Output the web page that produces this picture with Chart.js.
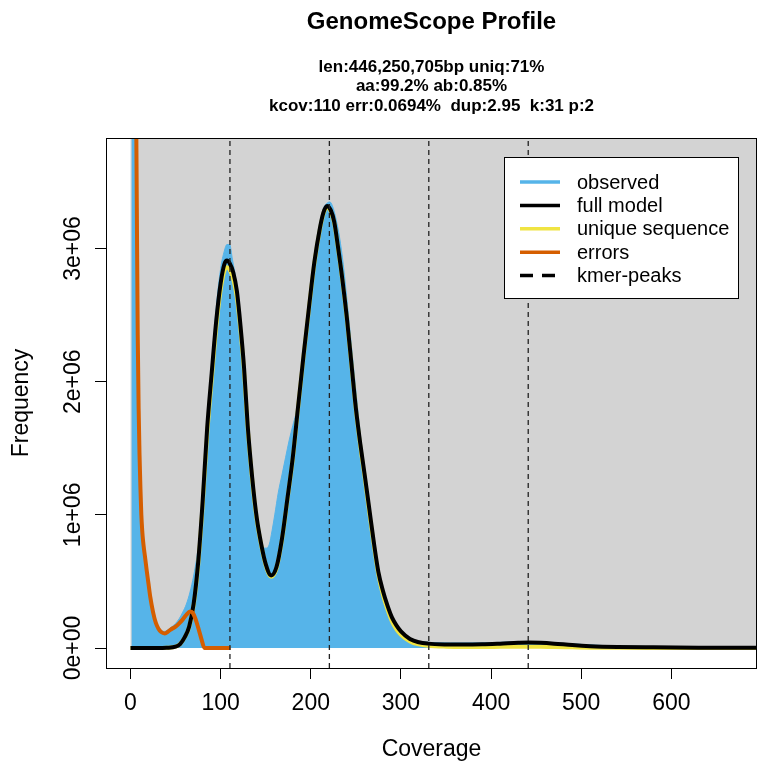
<!DOCTYPE html>
<html>
<head>
<meta charset="utf-8">
<script src="https://cdn.jsdelivr.net/npm/chart.js@4.4.1/dist/chart.umd.min.js"></script>
<style>
  body { margin: 0; background: #fff; }
</style>
</head>
<body>
<canvas id="myChart" width="770" height="777"></canvas>
<script>
// frequencies below are in millions of k-mers
const obsCov = [1,2,3,4,5,6,7,8,9,10,11,12,13,14,15,16,18,20,22,25,28,31,34,38,42,46,
  50,54,58,62,66,70,74,78,82,86,90,95,100,104,107,110,113,117,121,125,129,133,137,141,145,
  148,151,154,157,160,164,168,172,176,180,184,190,196,202,208,214,218,221,224,228,232,236,
  240,245,250,255,260,265,270,275,280,285,290,295,300,310,320,340,370,400,430,450,480,520,
  560,600,650,694];
const obsFreq = [20,12,8,6.5,5.2,4.3,3.3,2.35,1.8,1.45,1.2,1.0,0.88,0.8,0.74,0.69,
  0.58,0.48,0.38,0.27,0.19,0.15,0.13,0.125,0.14,0.16,
  0.185,0.22,0.27,0.33,0.42,0.54,0.7,0.92,1.3,1.75,
  2.12,2.55,2.85,2.98,3.03,3.03,2.92,2.76,2.52,2.2,
  1.78,1.45,1.15,0.93,0.8,0.75,0.75,0.78,0.88,1.0,
  1.17,1.3,1.43,1.56,1.67,1.78,2.1,2.48,2.85,3.13,
  3.3,3.34,3.35,3.32,3.22,3.08,2.88,2.62,2.27,1.93,
  1.6,1.33,1.05,0.8,0.56,0.4,0.27,0.18,0.12,0.085,
  0.058,0.048,0.04,0.038,0.04,0.046,0.045,0.035,0.02,0.013,
  0.009,0.007,0.006];

const modelCov = [0,10,20,30,40,50,55,60,65,70,75,80,85,90,95,100,104,107,110,114,118,122,126,130,
  135,140,145,150,156,162,168,174,180,186,192,198,204,210,214,218,222,226,230,235,240,245,250,
  255,260,265,270,275,280,285,290,295,300,310,320,330,350,370,390,410,430,442,455,470,490,510,
  540,580,630,694];
const modelFreq = [0,0,0,0,0.002,0.01,
  0.03,0.08,0.16,0.33,0.64,1.1,1.65,2.06,2.45,2.74,
  2.88,2.91,2.89,2.82,2.68,2.42,2.1,1.67,
  1.28,0.98,0.78,0.63,0.545,0.61,0.82,1.12,1.43,
  1.82,2.2,2.56,2.9,3.15,3.27,3.32,3.29,3.2,3.02,
  2.77,2.48,2.14,1.8,1.53,1.29,1.04,0.79,0.57,0.43,
  0.32,0.23,0.17,0.125,0.068,0.043,0.033,
  0.027,0.026,0.028,0.033,0.039,0.041,0.039,0.033,0.022,0.014,
  0.008,0.005,0.003,0.002];
const uniqueFreq = [0,0,0,0,0.002,0.01,
  0.03,0.078,0.155,0.32,0.62,1.07,1.6,2.01,2.4,2.69,
  2.83,2.86,2.84,2.77,2.63,2.38,2.07,1.65,
  1.26,0.965,0.77,0.62,0.535,0.6,0.81,1.11,1.42,
  1.81,2.19,2.55,2.89,3.14,3.26,3.31,3.28,3.19,3.01,
  2.76,2.47,2.13,1.79,1.51,1.27,1.01,0.77,0.55,0.4,
  0.29,0.2,0.14,0.1,0.05,0.027,0.017,
  0.01,0.008,0.008,0.009,0.01,0.01,0.009,0.007,0.005,0.003,
  0.002,0.001,0.0005,0];

const errCov = [1,2,3,4,5,6,7,8,9,10,11,12,13,14,15,16,18,20,22,25,28,31,34,38,42,46,
  50,54,58,62,66,69,72,75,79,82,111];
const errFreq = [20,12,8,6.5,5.2,4.3,3.3,2.35,1.8,1.45,1.2,1.0,0.88,0.8,0.74,0.69,
  0.58,0.48,0.38,0.27,0.19,0.145,0.12,0.11,0.125,0.145,
  0.16,0.185,0.215,0.25,0.275,0.265,0.22,0.155,0.06,0,0];

const kmerPeaks = [110.3, 220.6, 330.9, 441.2];

const xTicks = [0, 100, 200, 300, 400, 500, 600];
const yTicks = [0, 1e6, 2e6, 3e6];
const yTickLabels = ['0e+00', '1e+06', '2e+06', '3e+06'];

const titleText = 'GenomeScope Profile';
const subtitleLines = [
  'len:446,250,705bp uniq:71%',
  'aa:99.2% ab:0.85%',
  'kcov:110 err:0.0694%  dup:2.95  k:31 p:2'
];
const legendLabels = ['observed', 'full model', 'unique sequence', 'errors', 'kmer-peaks'];

const COLOR_HIST = '#56B4E9';
const COLOR_MODEL = '#000000';
const COLOR_UNIQUE = '#F0E442';
const COLOR_ERRORS = '#D55E00';
const COLOR_BG = '#d3d3d3';
const FONT = '"Liberation Sans", Arial, sans-serif';

const X_MIN = -27.2, X_MAX = 695;
const Y_MIN = -0.15e6, Y_MAX = 3.83e6;

const pts = (xs, ys) => xs.map((x, i) => ({ x: x, y: ys[i] * 1e6 }));

const datasets = [
  {
    label: 'errors', data: pts(errCov, errFreq), borderColor: COLOR_ERRORS,
    borderWidth: 4, pointRadius: 0, cubicInterpolationMode: 'monotone', order: 1
  },
  {
    label: 'full model', data: pts(modelCov, modelFreq), borderColor: COLOR_MODEL,
    borderWidth: 4, pointRadius: 0, cubicInterpolationMode: 'monotone', order: 2
  },
  {
    label: 'unique sequence', data: pts(modelCov, uniqueFreq), borderColor: COLOR_UNIQUE,
    borderWidth: 4, pointRadius: 0, cubicInterpolationMode: 'monotone', order: 3
  },
  {
    label: 'observed', data: pts(obsCov, obsFreq), borderColor: COLOR_HIST,
    backgroundColor: COLOR_HIST, fill: 'origin', borderWidth: 1, pointRadius: 0,
    cubicInterpolationMode: 'monotone', order: 4
  }
];
kmerPeaks.forEach(p => {
  datasets.push({
    label: 'kmer-peaks', data: [{ x: p, y: Y_MIN }, { x: p, y: Y_MAX }],
    borderColor: '#222', borderWidth: 1.3, borderDash: [5, 4], pointRadius: 0, order: 0
  });
});

const genomePlot = {
  id: 'genomePlot',
  beforeDatasetsDraw(chart) {
    const { ctx, chartArea: a, scales: { x, y } } = chart;
    const x0 = x.getPixelForValue(0), y0 = y.getPixelForValue(0);
    ctx.save();
    ctx.fillStyle = COLOR_BG;
    ctx.fillRect(x0, a.top, a.right - x0, y0 - a.top);
    ctx.restore();
  },
  afterDraw(chart) {
    const { ctx, chartArea: a, scales: { y } } = chart;
    ctx.save();
    // box
    ctx.strokeStyle = '#000';
    ctx.lineWidth = 1;
    ctx.strokeRect(Math.round(a.left) + 0.5, Math.round(a.top) + 0.5,
      Math.round(a.right - a.left) - 1, Math.round(a.bottom - a.top));

    // y tick labels, rotated like R
    ctx.fillStyle = '#000';
    ctx.font = '23px ' + FONT;
    ctx.textAlign = 'center';
    ctx.textBaseline = 'alphabetic';
    yTicks.forEach((v, i) => {
      ctx.save();
      ctx.translate(a.left - 26, y.getPixelForValue(v));
      ctx.rotate(-Math.PI / 2);
      ctx.fillText(yTickLabels[i], 0, 0);
      ctx.restore();
    });

    // titles
    const cx = (a.left + a.right) / 2;
    ctx.font = 'bold 24px ' + FONT;
    ctx.fillText(titleText, cx, 29);
    ctx.font = 'bold 17px ' + FONT;
    subtitleLines.forEach((t, i) => ctx.fillText(t, cx, 71.5 + i * 19.6));

    // legend
    const lx = a.right - 253, ly = a.top + 19, lw = 234, lh = 141;
    ctx.fillStyle = '#fff';
    ctx.fillRect(lx, ly, lw, lh);
    ctx.strokeStyle = '#000';
    ctx.strokeRect(lx + 0.5, ly + 0.5, lw, lh);
    const cols = [COLOR_HIST, COLOR_MODEL, COLOR_UNIQUE, COLOR_ERRORS, '#000'];
    ctx.font = '20px ' + FONT;
    ctx.textAlign = 'left';
    ctx.textBaseline = 'middle';
    legendLabels.forEach((lab, i) => {
      const ry = ly + 25 + i * 23.4;
      ctx.strokeStyle = cols[i];
      ctx.lineWidth = 3.5;
      ctx.setLineDash(i === 4 ? [13, 9] : []);
      ctx.beginPath();
      ctx.moveTo(lx + 16, ry);
      ctx.lineTo(lx + 56, ry);
      ctx.stroke();
      ctx.fillStyle = '#000';
      ctx.fillText(lab, lx + 73, ry + 1);
    });
    ctx.restore();
  }
};

const ctx = document.getElementById('myChart').getContext('2d');
const myChart = new Chart(ctx, {
  type: 'line',
  data: { datasets: datasets },
  options: {
    responsive: false,
    animation: false,
    devicePixelRatio: 1,
    layout: { padding: { top: 138, right: 13, left: 0, bottom: 0 } },
    plugins: { legend: { display: false }, tooltip: { enabled: false } },
    scales: {
      x: {
        type: 'linear', min: X_MIN, max: X_MAX,
        afterBuildTicks: s => { s.ticks = xTicks.map(v => ({ value: v })); },
        afterFit: s => { s.height = 109; },
        grid: { drawOnChartArea: false, drawTicks: true, tickLength: 11, color: '#000' },
        border: { display: false },
        ticks: {
          color: '#000', padding: 11, maxRotation: 0,
          font: { family: FONT, size: 23 }
        },
        title: {
          display: true, text: 'Coverage', color: '#000',
          font: { family: FONT, size: 23 },
          padding: { top: 0, bottom: 14 }
        }
      },
      y: {
        type: 'linear', min: Y_MIN, max: Y_MAX,
        afterBuildTicks: s => { s.ticks = yTicks.map(v => ({ value: v })); },
        afterFit: s => { s.width = 106; },
        grid: { drawOnChartArea: false, drawTicks: true, tickLength: 11, color: '#000' },
        border: { display: false },
        ticks: { display: false },
        title: {
          display: true, text: 'Frequency', color: '#000',
          font: { family: FONT, size: 23 },
          padding: { top: 8, bottom: 0 }
        }
      }
    }
  },
  plugins: [genomePlot]
});
</script>
</body>
</html>
